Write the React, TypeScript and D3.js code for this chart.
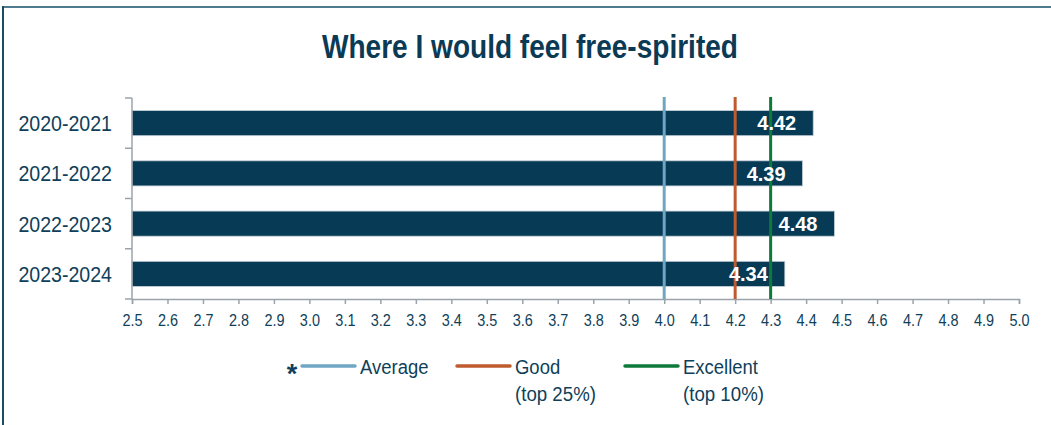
import React, { useEffect, useRef } from "react";
import * as d3 from "d3";

const years = ["2020-2021", "2021-2022", "2022-2023", "2023-2024"];
const scores = [4.42, 4.39, 4.48, 4.34];
const xTicks = [2.5, 2.6, 2.7, 2.8, 2.9, 3.0, 3.1, 3.2, 3.3, 3.4, 3.5, 3.6, 3.7, 3.8, 3.9, 4.0, 4.1, 4.2, 4.3, 4.4, 4.5, 4.6, 4.7, 4.8, 4.9, 5.0];
const benchmarkNames = ["Average", "Good", "Excellent"];
const benchmarkSub = ["", "(top 25%)", "(top 10%)"];
const benchmarkValues = [4.0, 4.2, 4.3];
const benchmarkColors = ["#6fa6c4", "#bf5b2f", "#0d7a3a"];
const title = "Where I would feel free-spirited";

const W = 1051;
const H = 425;
const FONT = "'Liberation Sans', Arial, sans-serif";
const TEXT = "#0f3f5a";

export default function App() {
  const ref = useRef<SVGSVGElement>(null);
  useEffect(() => {
    document.body.style.margin = "0";
    const svg = d3.select(ref.current);
    svg.selectAll("*").remove();

    const x = d3.scaleLinear().domain([2.5, 5.0]).range([132, 1019]);
    const y = d3.scaleBand<string>().domain(years).range([98, 299]).paddingInner(0.5).paddingOuter(0.25);

    const tr = (px: number, py: number, sx: number) => `translate(${px},${py}) scale(${sx},1)`;

    // border
    svg.append("rect").attr("x", 0).attr("y", 0).attr("width", W).attr("height", H).attr("fill", "#fff");
    svg.append("line").attr("x1", 2).attr("x2", W).attr("y1", 7).attr("y2", 7).attr("stroke", "#4f7b91").attr("stroke-width", 2);
    svg.append("line").attr("x1", 3).attr("x2", 3).attr("y1", 6).attr("y2", H).attr("stroke", "#1b4c64").attr("stroke-width", 2);

    svg.append("text").attr("transform", tr(530, 58, 0.85)).attr("text-anchor", "middle")
      .attr("font-family", FONT).attr("font-weight", "bold").attr("font-size", 33).attr("fill", "#0b3a55").text(title);

    // bars
    svg.append("g").selectAll("rect").data(years).join("rect")
      .attr("x", x(2.5))
      .attr("y", (d) => y(d)!)
      .attr("width", (d, i) => x(scores[i]) - x(2.5))
      .attr("height", y.bandwidth())
      .attr("fill", "#063a55")
      .attr("stroke", "#c8d2d8")
      .attr("stroke-width", 0.8);

    // axes
    const gy = svg.append("g").attr("transform", `translate(${x(2.5)},0)`);
    gy.append("line").attr("y1", 98).attr("y2", 299).attr("stroke", "#9aa3ab").attr("stroke-width", 1.5);
    const yEdges = [98, ...years.map((d) => y(d)! + y.bandwidth() + y.step() * 0.25)];
    gy.selectAll("line.t").data(yEdges).join("line").attr("class", "t")
      .attr("x1", -7).attr("x2", 0).attr("y1", (d) => d).attr("y2", (d) => d)
      .attr("stroke", "#9aa3ab").attr("stroke-width", 1.5);
    svg.append("g").selectAll("text").data(years).join("text")
      .attr("transform", (d) => tr(112, y(d)! + y.bandwidth() / 2, 0.89)).attr("dy", "0.36em")
      .attr("text-anchor", "end").attr("font-family", FONT).attr("font-size", 22).attr("fill", TEXT)
      .text((d) => d);

    const xAxis = d3.axisBottom(x).tickValues(xTicks).tickSize(5).tickFormat(d3.format(".1f"));
    const gx = svg.append("g").attr("transform", "translate(0,299)").call(xAxis);
    gx.select(".domain").attr("stroke", "#9aa3ab").attr("stroke-width", 1.5);
    gx.selectAll(".tick line").attr("stroke", "#9aa3ab").attr("stroke-width", 1.5);
    gx.selectAll(".tick text").attr("font-family", FONT).attr("font-size", 17).attr("fill", TEXT)
      .attr("y", 0).attr("dy", 0).attr("transform", "translate(0,27) scale(0.85,1)");

    // benchmark lines
    svg.append("g").selectAll("line").data(benchmarkValues).join("line")
      .attr("x1", (d) => x(d)).attr("x2", (d) => x(d))
      .attr("y1", 97).attr("y2", 299)
      .attr("stroke", (d, i) => benchmarkColors[i]).attr("stroke-width", 3);

    // value labels
    svg.append("g").selectAll("text").data(years).join("text")
      .attr("x", (d, i) => x(scores[i]) - 17)
      .attr("y", (d) => y(d)! + y.bandwidth() / 2).attr("dy", "0.36em")
      .attr("text-anchor", "end").attr("font-family", FONT)
      .attr("font-weight", "bold").attr("font-size", 20).attr("fill", "#fff")
      .text((d, i) => scores[i].toFixed(2));

    // legend
    const lx = [302, 457, 625];
    const lg = svg.append("g");
    lg.append("text").attr("x", 292).attr("y", 383).attr("text-anchor", "middle")
      .attr("font-family", FONT).attr("font-weight", "bold")
      .attr("font-size", 27).attr("fill", TEXT).text("*");
    benchmarkNames.forEach((name, i) => {
      lg.append("line").attr("x1", lx[i]).attr("x2", lx[i] + 53).attr("y1", 366).attr("y2", 366)
        .attr("stroke", benchmarkColors[i]).attr("stroke-width", 3.5).attr("stroke-linecap", "round");
      lg.append("text").attr("transform", tr(lx[i] + 58, 374, 0.88))
        .attr("font-family", FONT).attr("font-size", 21).attr("fill", TEXT).text(name);
      if (benchmarkSub[i]) {
        lg.append("text").attr("transform", tr(lx[i] + 58, 401, 0.89))
          .attr("font-family", FONT).attr("font-size", 21).attr("fill", TEXT).text(benchmarkSub[i]);
      }
    });
  }, []);
  return (
    <div style={{ position: "absolute", left: 0, top: 0 }}>
      <svg ref={ref} width={W} height={H} />
    </div>
  );
}
